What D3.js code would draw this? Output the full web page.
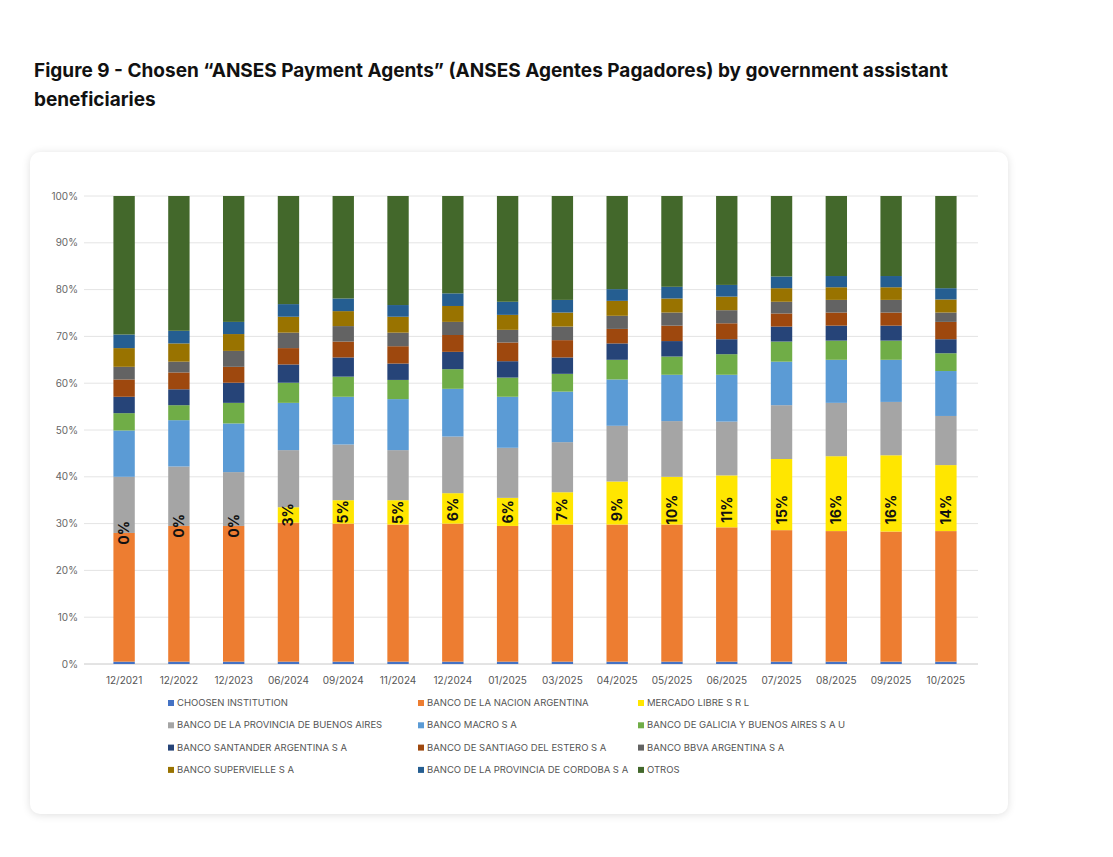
<!DOCTYPE html>
<html>
<head>
<meta charset="utf-8">
<script src="https://cdn.jsdelivr.net/npm/d3@7"></script>
<style>
  body { margin: 0; background: #fff; font-family: Inter, "Noto Sans", sans-serif; }
  #title { position: absolute; left: 34px; top: 56px; width: 1000px; font-size: 19px; font-weight: 700; line-height: 29px; color: #111; }
  #card { position: absolute; left: 30px; top: 152px; width: 978px; height: 662px; border-radius: 10px; background: #fff;
          box-shadow: 0 1px 8px rgba(0,0,0,0.13); }
  svg { position: absolute; left: 0; top: 0; }
</style>
</head>
<body>
<div id="title">Figure 9 - Chosen “ANSES Payment Agents” (ANSES Agentes Pagadores) by government assistant beneficiaries</div>
<div id="card"></div>
<svg id="chart" width="1113" height="857"></svg>
<script>
const periods = ['12/2021','12/2022','12/2023','06/2024','09/2024','11/2024','12/2024','01/2025','03/2025','04/2025','05/2025','06/2025','07/2025','08/2025','09/2025','10/2025']
const series = ['CHOOSEN INSTITUTION','BANCO DE LA NACION ARGENTINA','MERCADO LIBRE S R L',
  'BANCO DE LA PROVINCIA DE BUENOS AIRES','BANCO MACRO S A','BANCO DE GALICIA Y BUENOS AIRES S A U',
  'BANCO SANTANDER ARGENTINA S A','BANCO DE SANTIAGO DEL ESTERO S A','BANCO BBVA ARGENTINA S A',
  'BANCO SUPERVIELLE S A','BANCO DE LA PROVINCIA DE CORDOBA S A','OTROS']
const colors = ['#4472c4','#ed7d31','#ffe600','#a5a5a5','#5b9bd5','#70ad47','#264478','#9e480e','#636363','#997300','#255e91','#43682b']
// cumulative top (%) of each series
const topChoosen   = [0.5,0.5,0.5,0.5,0.5,0.5,0.5,0.5,0.5,0.5,0.5,0.5,0.5,0.5,0.5,0.5]
const topNacion    = [28,29.5,29.5,30.2,30,29.8,30,29.5,29.8,29.8,29.8,29.2,28.6,28.4,28.3,28.4]
const topML        = [28,29.5,29.5,33.5,35,35,36.5,35.5,36.7,39,40,40.3,43.8,44.4,44.6,42.5]
const topProvBA    = [40,42.2,41,45.7,46.9,45.7,48.6,46.2,47.4,50.9,51.9,51.8,55.3,55.8,56,53]
const topMacro     = [49.9,52.1,51.4,55.8,57.1,56.6,58.8,57.1,58.2,60.8,61.8,61.8,64.6,65,65,62.6]
const topGalicia   = [53.6,55.3,55.8,60.1,61.4,60.7,63,61.2,62,65,65.7,66.2,68.9,69.1,69.1,66.4]
const topSantander = [57.1,58.7,60.1,64,65.5,64.2,66.7,64.7,65.5,68.5,69,69.4,72.1,72.3,72.3,69.4]
const topSdE       = [60.8,62.3,63.5,67.5,68.9,67.9,70.3,68.7,69.2,71.6,72.3,72.8,74.9,75.1,75.1,73.1]
const topBBVA      = [63.5,64.6,66.9,70.8,72.2,70.8,73.1,71.4,72.1,74.4,75.1,75.6,77.4,77.8,77.8,75.1]
const topSuperv    = [67.5,68.5,70.5,74.2,75.4,74.2,76.5,74.6,75.1,77.6,78.1,78.5,80.3,80.5,80.5,77.9]
const topCordoba   = [70.4,71.2,73.1,76.9,78.1,76.7,79.2,77.4,77.8,80.1,80.6,81,82.8,82.9,82.9,80.3]
const topOtros     = [100,100,100,100,100,100,100,100,100,100,100,100,100,100,100,100]
const mlLabels = ['0%','0%','0%','3%','5%','5%','6%','6%','7%','9%','10%','11%','15%','16%','16%','14%']
const yTicks = [0,10,20,30,40,50,60,70,80,90,100]

const tops = [topChoosen,topNacion,topML,topProvBA,topMacro,topGalicia,topSantander,topSdE,topBBVA,topSuperv,topCordoba,topOtros]

const svg = d3.select("#chart")
const x = d3.scaleBand().domain(periods).range([80, 990]).padding(0.61)
const y = d3.scaleLinear().domain([0, 100]).range([664, 196])

// gridlines + y labels
svg.append("g").selectAll("line").data(yTicks).join("line")
  .attr("x1", 84).attr("x2", 978).attr("y1", d => y(d)).attr("y2", d => y(d))
  .attr("stroke", d => d === 0 ? "#c8c8c8" : "#e4e4e4").attr("stroke-width", 1)
svg.append("g").selectAll("text").data(yTicks).join("text")
  .attr("x", 78).attr("y", d => y(d) + 3.5).attr("text-anchor", "end")
  .attr("font-size", 10).attr("fill", "#666").text(d => d + "%")

// stacked bars
periods.forEach((p, i) => {
  tops.forEach((t, s) => {
    const lo = s === 0 ? 0 : tops[s - 1][i]
    const hi = t[i]
    if (hi <= lo) return
    svg.append("rect")
      .attr("x", x(p)).attr("width", x.bandwidth())
      .attr("y", y(hi)).attr("height", y(lo) - y(hi))
      .attr("fill", colors[s])
  })
  const mid = Math.min((topNacion[i] + topML[i]) / 2, 33)
  svg.append("text")
    .attr("transform", `translate(${x(p) + x.bandwidth() / 2 + 5},${y(mid)}) rotate(-90)`)
    .attr("text-anchor", "middle").attr("font-size", 14).attr("font-weight", 700)
    .attr("fill", "#111").text(mlLabels[i])
})

// x labels
svg.append("g").selectAll("text").data(periods).join("text")
  .attr("x", d => x(d) + x.bandwidth() / 2).attr("y", 684).attr("text-anchor", "middle")
  .attr("font-size", 10).attr("fill", "#555").text(d => d)

// legend
const colX = [168, 418, 638]
const leg = svg.append("g").selectAll("g").data(series).join("g")
  .attr("transform", (d, i) => `translate(${colX[i % 3]},${706 + Math.floor(i / 3) * 22.3})`)
leg.append("rect").attr("x", 0).attr("y", -6).attr("width", 6).attr("height", 6).attr("fill", (d, i) => colors[i])
leg.append("text").attr("x", 9).attr("y", 0).attr("font-size", 9.5).attr("fill", "#555").text(d => d)
</script>
</body>
</html>
